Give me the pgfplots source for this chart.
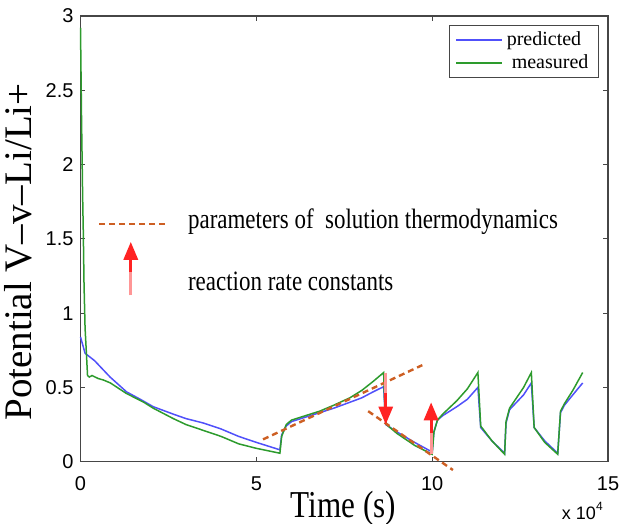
\documentclass[border=0pt]{standalone}
\usepackage{fontspec}
\setmainfont{Liberation Serif}
\setsansfont{Liberation Sans}
\usepackage{pgfplots}
\pgfplotsset{compat=1.18}
\usetikzlibrary{calc,arrows.meta}
\definecolor{predblue}{RGB}{80,80,250}
\definecolor{measgreen}{RGB}{45,155,45}
\definecolor{dashorange}{RGB}{205,95,35}
\definecolor{arrowred}{RGB}{255,35,35}
\definecolor{arrowpink}{RGB}{255,150,150}
\definecolor{axisgray}{RGB}{70,70,70}
\begin{document}
\begin{tikzpicture}
\begin{axis}[
  name=ax,
  scale only axis,
  width=263.75pt, height=222.85pt,
  xmin=0, xmax=15, ymin=0, ymax=3,
  xtick={0,5,10,15}, xticklabels={0,5,10,15},
  ytick={0,0.5,1,1.5,2,2.5,3}, yticklabels={0,0.5,1,1.5,2,2.5,3},
  tick align=inside, xtick pos=both, ytick pos=both,
  major tick length=2.5pt,
  tick style={axisgray, line width=0.5pt},
  axis line style={axisgray, line width=0.8pt},
  ticklabel style={font=\sffamily\fontsize{10}{12}\selectfont},
  xticklabel style={yshift=-4pt},
  clip=false,
  legend style={at={(0.983,0.98)}, anchor=north east, draw=axisgray, line width=0.6pt,
    font=\fontsize{10}{12}\selectfont, inner xsep=3pt, inner ysep=1pt, row sep=-1pt},
  legend cell align=left,
  legend image code/.code={\draw[#1, line width=0.7pt] (0pt,0pt) -- (23pt,0pt);},
]
\addplot[predblue, line width=0.75pt] coordinates {
(0,0.84) (0.13,0.73) (0.4,0.68) (0.84,0.57) (1.31,0.47) (1.7,0.42) (2.07,0.37)
(2.64,0.32) (3.0,0.29) (3.5,0.26) (4.0,0.22) (4.5,0.17) (5.0,0.13) (5.67,0.08)
(5.72,0.18) (5.85,0.24) (6.0,0.27) (6.4,0.30) (6.8,0.33) (7.2,0.36) (7.66,0.40)
(8.0,0.43) (8.32,0.47) (8.62,0.505) (8.68,0.25) (9.0,0.20) (9.5,0.13) (10.0,0.065)
(10.05,0.2) (10.15,0.28) (10.3,0.31) (10.7,0.37) (11.0,0.42) (11.3,0.50)
(11.38,0.23) (11.7,0.14) (12.06,0.057) (12.1,0.26) (12.2,0.35) (12.4,0.40)
(12.6,0.45) (12.82,0.53) (12.9,0.23) (13.2,0.14) (13.57,0.057) (13.65,0.33)
(13.76,0.38) (14.0,0.45) (14.28,0.53)
};
\addlegendentry{predicted}
\addplot[measgreen, line width=0.75pt] coordinates {
(0,2.92) (0.03,2.3) (0.06,1.8) (0.08,1.54) (0.1,1.2) (0.13,0.9) (0.17,0.72)
(0.2,0.58) (0.25,0.57) (0.33,0.58) (0.5,0.56) (0.65,0.55) (0.85,0.53) (1.3,0.46)
(1.8,0.40) (2.07,0.36) (2.64,0.29) (3.0,0.25) (3.5,0.21) (4.0,0.17) (4.5,0.12)
(5.0,0.09) (5.67,0.057) (5.72,0.17) (5.85,0.25) (6.0,0.28) (6.4,0.31) (6.8,0.34)
(7.2,0.38) (7.66,0.43) (8.0,0.48) (8.32,0.54) (8.62,0.60) (8.66,0.30) (8.7,0.25)
(9.0,0.19) (9.5,0.11) (9.83,0.07) (10.0,0.05) (10.05,0.2) (10.15,0.28) (10.3,0.32)
(10.7,0.41) (11.0,0.49) (11.3,0.60) (11.38,0.24) (11.7,0.14) (12.06,0.05)
(12.1,0.27) (12.2,0.36) (12.4,0.43) (12.6,0.50) (12.82,0.60) (12.9,0.23)
(13.2,0.13) (13.57,0.05) (13.65,0.34) (13.76,0.39) (14.0,0.48) (14.28,0.60)
};
\addlegendentry{\ measured}
% annotations
\draw[dashorange, line width=1.2pt, dash pattern=on 3pt off 2pt] (axis cs:5.19,0.15) -- (axis cs:9.72,0.65);
\draw[dashorange, line width=1.2pt, dash pattern=on 3pt off 2pt] (axis cs:8.18,0.34) -- (axis cs:10.59,-0.056);
\draw[dashorange, line width=1.2pt, dash pattern=on 3pt off 2pt] (axis cs:0.534,1.60) -- (axis cs:2.43,1.60);
% red arrows
\draw[arrowpink, line width=1.6pt] (axis cs:8.68,0.60) -- (axis cs:8.68,0.45);
\draw[arrowred, line width=1.6pt, -{Triangle[width=7pt,length=9pt]}] (axis cs:8.68,0.46) -- (axis cs:8.68,0.25);
\draw[arrowpink, line width=1.6pt] (axis cs:9.97,0.05) -- (axis cs:9.97,0.20);
\draw[arrowred, line width=1.6pt, -{Triangle[width=7pt,length=9pt]}] (axis cs:9.97,0.19) -- (axis cs:9.97,0.40);
\draw[arrowpink, line width=1.6pt] (axis cs:1.43,1.12) -- (axis cs:1.43,1.29);
\draw[arrowred, line width=1.6pt, -{Triangle[width=7pt,length=9pt]}] (axis cs:1.43,1.28) -- (axis cs:1.43,1.48);
\node[anchor=west, inner sep=0pt, xscale=0.82, font=\fontsize{14}{16}\selectfont] at (axis cs:3.05,1.613) {parameters of\ \ solution thermodynamics};
\node[anchor=west, inner sep=0pt, xscale=0.82, font=\fontsize{14}{16}\selectfont] at (axis cs:3.05,1.216) {reaction rate constants};
% labels
\node[anchor=base, inner sep=0pt, xscale=0.82, font=\fontsize{19}{22}\selectfont] at (rel axis cs:0.4986,-0.1263) {Time (s)};
\node[anchor=base, rotate=90, inner sep=0pt, font=\fontsize{19.5}{22}\selectfont] at (rel axis cs:-0.0925,0.4705) {Potential V--v--Li/Li+};
\node[anchor=base west, inner sep=0pt, font=\sffamily\fontsize{9}{11}\selectfont] at (rel axis cs:0.912,-0.1286) {x 10\raisebox{0.9ex}{\fontsize{6}{7}\selectfont 4}};
\end{axis}
\pgfresetboundingbox
\path[use as bounding box] ($(ax.south west)+(-40.25pt,-31.15pt)$) rectangle ($(ax.north east)+(6.5pt,8pt)$);
\end{tikzpicture}
\end{document}
